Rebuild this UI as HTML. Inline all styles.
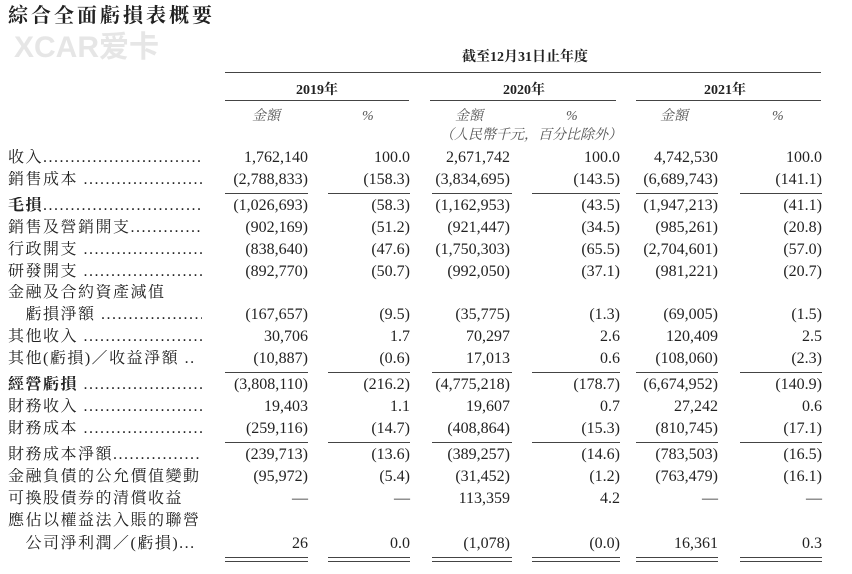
<!DOCTYPE html>
<html><head><meta charset="utf-8"><style>
body{margin:0;width:852px;height:574px;background:#fff;overflow:hidden;position:relative;font-family:"Liberation Serif","Noto Serif CJK SC",serif;color:#222;}
.t{position:absolute;white-space:nowrap;font-size:16px;line-height:18px;}
.r{text-align:right;}
.lb{overflow:hidden;width:194px;letter-spacing:1.5px;}
.l{position:absolute;height:1px;background:#444;}
.h{font-weight:bold;font-size:14px;}
.i{font-style:italic;color:#555;font-size:14px;}
</style></head><body>
<div class="t" style="left:8px;top:4px;font-size:20px;font-weight:bold;letter-spacing:3px;line-height:24px">綜合全面虧損表概要</div>
<div class="t" style="left:14px;top:30px;font-size:30px;font-weight:bold;color:#e6e6e6;font-family:'Liberation Sans','Noto Sans CJK SC',sans-serif;line-height:36px">XCAR爱卡</div>
<div class="t h" style="left:462px;top:49px">截至12月31日止年度</div>
<div class="l" style="left:225px;top:72px;width:596px"></div>
<div class="t h" style="left:296px;top:82px">2019年</div>
<div class="t h" style="left:503px;top:82px">2020年</div>
<div class="t h" style="left:704px;top:82px">2021年</div>
<div class="l" style="left:225px;top:100px;width:184px"></div>
<div class="l" style="left:430px;top:100px;width:186px"></div>
<div class="l" style="left:636px;top:100px;width:185px"></div>
<div class="t i" style="left:252px;top:108px">金額</div>
<div class="t i" style="left:362px;top:108px">%</div>
<div class="t i" style="left:455px;top:108px">金額</div>
<div class="t i" style="left:566px;top:108px">%</div>
<div class="t i" style="left:660px;top:108px">金額</div>
<div class="t i" style="left:772px;top:108px">%</div>
<div class="t i" style="left:440px;top:127px">（人民幣千元，百分比除外）</div>
<div id="rows"></div>
<script>
var D="..............................................";
var rows=[
[149,"收入"+D,"1,762,140","100.0","2,671,742","100.0","4,742,530","100.0"],
[171,"銷售成本 "+D,"(2,788,833)","(158.3)","(3,834,695)","(143.5)","(6,689,743)","(141.1)"],
[197,"<b>毛損</b>"+D,"(1,026,693)","(58.3)","(1,162,953)","(43.5)","(1,947,213)","(41.1)"],
[219,"銷售及營銷開支"+D,"(902,169)","(51.2)","(921,447)","(34.5)","(985,261)","(20.8)"],
[241,"行政開支 "+D,"(838,640)","(47.6)","(1,750,303)","(65.5)","(2,704,601)","(57.0)"],
[263,"研發開支 "+D,"(892,770)","(50.7)","(992,050)","(37.1)","(981,221)","(20.7)"],
[284,"金融及合約資產減值","","","","","",""],
[306,"　虧損淨額 "+D,"(167,657)","(9.5)","(35,775)","(1.3)","(69,005)","(1.5)"],
[328,"其他收入 "+D,"30,706","1.7","70,297","2.6","120,409","2.5"],
[350,"其他(虧損)／收益淨額 ..","(10,887)","(0.6)","17,013","0.6","(108,060)","(2.3)"],
[376,"<b>經營虧損</b> "+D,"(3,808,110)","(216.2)","(4,775,218)","(178.7)","(6,674,952)","(140.9)"],
[398,"財務收入 "+D,"19,403","1.1","19,607","0.7","27,242","0.6"],
[420,"財務成本 "+D,"(259,116)","(14.7)","(408,864)","(15.3)","(810,745)","(17.1)"],
[446,"財務成本淨額"+D,"(239,713)","(13.6)","(389,257)","(14.6)","(783,503)","(16.5)"],
[468,"金融負債的公允價值變動","(95,972)","(5.4)","(31,452)","(1.2)","(763,479)","(16.1)"],
[490,"可換股債券的清償收益","—","—","113,359","4.2","—","—"],
[512,"應佔以權益法入賬的聯營","","","","","",""],
[535,"　公司淨利潤／(虧損)...","26","0.0","(1,078)","(0.0)","16,361","0.3"]];
var rights=[308,410,510,620,718,822];
var h="";
rows.forEach(function(r){
h+='<div class="t lb" style="left:8px;top:'+r[0]+'px">'+r[1]+'</div>';
for(var k=0;k<6;k++){if(r[k+2])h+='<div class="t r" style="right:'+(852-rights[k])+'px;top:'+r[0]+'px">'+r[k+2]+'</div>';}
});
var segs=[[225,308],[328,410],[432,512],[532,620],[636,718],[740,822]];
[193,372,442,557,561].forEach(function(y){segs.forEach(function(s){h+='<div class="l" style="left:'+s[0]+'px;top:'+y+'px;width:'+(s[1]-s[0])+'px"></div>';});});
document.getElementById("rows").innerHTML=h;
</script>
</body></html>
